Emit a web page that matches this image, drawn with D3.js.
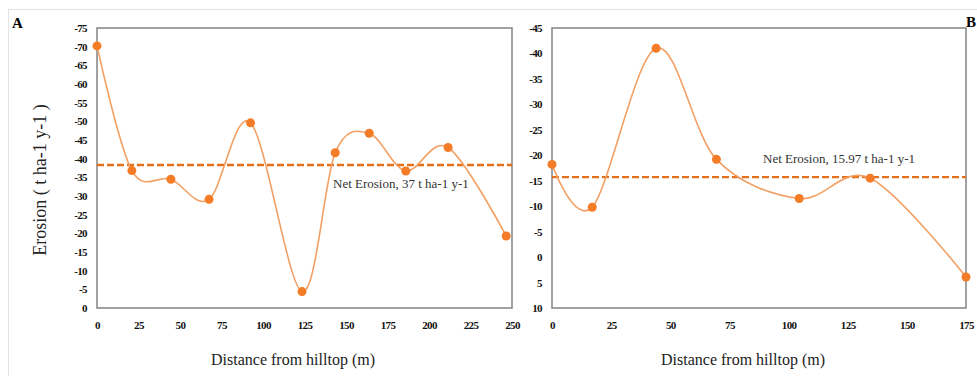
<!DOCTYPE html>
<html>
<head>
<meta charset="utf-8">
<script src="https://cdn.jsdelivr.net/npm/d3@7"></script>
<style>
body { margin: 0; background: #fff; }
svg { display: block; font-family: "Liberation Serif", "Times New Roman", serif; }
</style>
</head>
<body>
<svg id="chart" width="977" height="376"></svg>
<script>
// panel A
var distA = [0, 21, 44.5, 67.5, 92.5, 123.5, 143.5, 164, 186, 211.5, 246.5]
var erosionA = [-70.2, -36.8, -34.5, -29.1, -49.6, -4.4, -41.6, -46.8, -36.7, -43, -19.3]
var netA = -38.3
var netLabelA = 'Net Erosion, 37 t ha-1 y-1'
var xTicksA = [0, 25, 50, 75, 100, 125, 150, 175, 200, 225, 250]
var yTicksA = [-75, -70, -65, -60, -55, -50, -45, -40, -35, -30, -25, -20, -15, -10, -5, 0]

// panel B
var distB = [0, 17, 44, 69.5, 104.5, 134.5, 175]
var erosionB = [-18.2, -9.8, -41, -19.2, -11.5, -15.5, 3.9]
var netB = -15.7
var netLabelB = 'Net Erosion, 15.97  t ha-1 y-1'
var xTicksB = [0, 25, 50, 75, 100, 125, 150, 175]
var yTicksB = [-45, -40, -35, -30, -25, -20, -15, -10, -5, 0, 5, 10]

var lineColor = '#F2A064'
var dotColor = '#F47C26'
var netColor = '#E4701A'

var svg = d3.select('#chart')

// light outer frame of the figure
svg.append('line').attr('x1', 8).attr('x2', 977).attr('y1', 9.5).attr('y2', 9.5)
	.attr('stroke', '#e2e2e2')
svg.append('line').attr('x1', 8.5).attr('x2', 8.5).attr('y1', 9).attr('y2', 376)
	.attr('stroke', '#e2e2e2')

function panel(p){
	var x = d3.scaleLinear().domain(p.xDomain).range([p.left, p.right])
	var y = d3.scaleLinear().domain(p.yDomain).range([p.bottom, p.top])
	var g = svg.append('g')

	g.append('g').attr('transform', 'translate(' + p.left + ',0)')
		.call(d3.axisLeft(y).tickValues(p.yTicks).tickSize(0).tickPadding(10)
			.tickFormat(d => String(d)))
	g.append('g').attr('transform', 'translate(0,' + p.bottom + ')')
		.call(d3.axisBottom(x).tickValues(p.xTicks).tickSize(0).tickPadding(13)
			.tickFormat(d => String(d)))
	g.selectAll('.domain').remove()
	g.selectAll('.tick text').attr('font-size', 11).attr('fill', '#111')
		.attr('font-weight', 'bold').attr('letter-spacing', '-0.6')
		.attr('font-family', '"Liberation Serif", serif')

	g.append('rect').attr('x', p.left).attr('y', p.top)
		.attr('width', p.right - p.left).attr('height', p.bottom - p.top)
		.attr('fill', 'none').attr('stroke', '#8a8a8a').attr('stroke-width', 1.6)

	g.append('line').attr('x1', p.left).attr('x2', p.right)
		.attr('y1', y(p.net)).attr('y2', y(p.net))
		.attr('stroke', netColor).attr('stroke-width', 2.4).attr('stroke-dasharray', '7,3')

	var pts = p.xs.map((d, i) => [x(d), y(p.ys[i])])
	var line = d3.line().curve(d3.curveCardinal.tension(0))
	g.append('path').attr('d', line(pts)).attr('fill', 'none')
		.attr('stroke', lineColor).attr('stroke-width', 1.6)
	g.selectAll('circle.pt').data(pts).join('circle').attr('class', 'pt')
		.attr('cx', d => d[0]).attr('cy', d => d[1]).attr('r', 4.5)
		.attr('fill', dotColor)

	g.append('text').attr('x', p.labelX).attr('y', p.labelY)
		.attr('font-size', 13).attr('fill', '#333').text(p.netLabel)

	g.append('text').attr('x', p.titleX).attr('y', 365)
		.attr('text-anchor', 'middle').attr('font-size', 16).attr('fill', '#222')
		.text('Distance  from hilltop  (m)')
}

panel({left: 97, right: 512, top: 28, bottom: 308,
	xDomain: [0, 250], yDomain: [0, -75], xTicks: xTicksA, yTicks: yTicksA,
	xs: distA, ys: erosionA, net: netA, netLabel: netLabelA, labelX: 333, labelY: 188,
	titleX: 293})

panel({left: 552, right: 966, top: 28, bottom: 308,
	xDomain: [0, 175], yDomain: [10, -45], xTicks: xTicksB, yTicks: yTicksB,
	xs: distB, ys: erosionB, net: netB, netLabel: netLabelB, labelX: 763, labelY: 163,
	titleX: 743})

svg.append('text').attr('transform', 'translate(46,180) rotate(-90)')
	.attr('text-anchor', 'middle').attr('font-size', 18).attr('fill', '#222')
	.text('Erosion ( t ha-1  y-1 )')

svg.append('text').attr('x', 12).attr('y', 28).attr('font-size', 15)
	.attr('font-weight', 'bold').text('A')
svg.append('text').attr('x', 966).attr('y', 27).attr('font-size', 15)
	.attr('font-weight', 'bold').text('B')
</script>
</body>
</html>
